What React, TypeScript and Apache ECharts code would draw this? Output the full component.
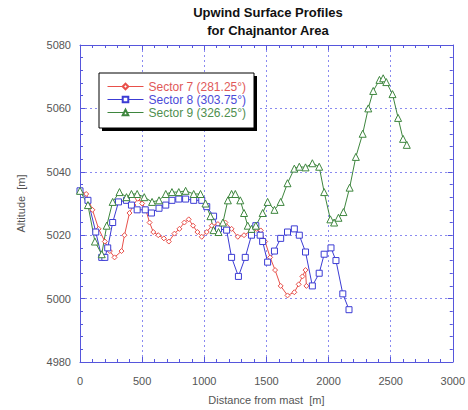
import React, { useEffect, useRef } from "react";
import * as echarts from "echarts";

const distance7 = [0, 50, 100, 150, 200, 240, 278, 334, 358, 398, 430, 465, 500, 530, 560, 590, 630, 675, 715, 760, 800, 840, 875, 910, 945, 980, 1020, 1060, 1110, 1170, 1220, 1270, 1320, 1380, 1420, 1455, 1490, 1530, 1570, 1615, 1670, 1725, 1760, 1790, 1815, 1822];
const altitude7 = [5034, 5033, 5028, 5022, 5018, 5015, 5013, 5015, 5020, 5027, 5029.5, 5031.5, 5030, 5028, 5024, 5021, 5020, 5019, 5018, 5020.5, 5022, 5024, 5025, 5023, 5021, 5019.5, 5021, 5023, 5023.5, 5024, 5022, 5019.5, 5020, 5021.5, 5022, 5021.5, 5018, 5013, 5009, 5004, 5001, 5002, 5004.5, 5007, 5009, 5004];

const distance8 = [0, 64, 127, 175, 200, 223, 263, 310, 374, 414, 460, 525, 575, 636, 690, 740, 795, 850, 915, 980, 1020, 1075, 1115, 1180, 1220, 1275, 1330, 1380, 1415, 1450, 1470, 1510, 1565, 1615, 1670, 1725, 1765, 1815, 1870, 1925, 1965, 2020, 2060, 2115, 2165];
const altitude8 = [5034, 5031, 5021, 5013, 5013, 5016, 5024, 5030.5, 5031, 5029.5, 5028, 5028, 5027, 5028.5, 5029.5, 5031, 5031.4, 5031.4, 5031, 5031, 5029, 5026, 5022, 5021.6, 5013, 5007, 5013, 5020, 5023, 5020, 5018, 5011.5, 5015, 5019, 5021, 5022, 5020, 5014.7, 5004, 5008, 5014, 5016, 5012, 5001.5, 4996.5];

const distance9 = [0, 64, 120, 175, 215, 263, 318, 374, 414, 460, 517, 580, 636, 690, 740, 795, 850, 915, 970, 1010, 1050, 1075, 1115, 1150, 1190, 1220, 1250, 1290, 1320, 1350, 1380, 1415, 1470, 1510, 1565, 1615, 1670, 1725, 1765, 1815, 1870, 1925, 1965, 2015, 2045, 2080, 2120, 2170, 2220, 2275, 2320, 2360, 2410, 2440, 2465, 2515, 2560, 2600, 2630];
const altitude9 = [5034, 5029.5, 5018, 5014, 5023, 5030.5, 5033.6, 5032, 5033, 5033, 5032, 5030.5, 5031, 5033, 5033.6, 5033.6, 5034, 5033, 5033, 5030, 5026, 5021.6, 5021, 5024, 5031, 5033, 5033, 5031, 5027, 5023, 5022, 5023, 5027, 5030.5, 5028, 5030.5, 5036.4, 5041, 5041.6, 5041.4, 5042.7, 5041.6, 5033.6, 5025, 5024, 5025.5, 5027.3, 5035, 5044.7, 5052, 5060, 5065.5, 5069, 5069.5, 5068.3, 5064.5, 5057, 5050.4, 5048.5];

const seriesNames = ["Sector 7 (281.25°)", "Sector 8 (303.75°)", "Sector 9 (326.25°)"];
const xTicks = { min: 0, max: 3000, interval: 500 };
const yTicks = { min: 4980, max: 5080, interval: 20 };

const zip = (xs: number[], ys: number[]) => xs.map((x, i) => [x, ys[i]]);

const AXIS_COLOR = "#5656dc";
const GRID_COLOR = "#8a8af0";
const LABEL_COLOR = "#555555";
const FONT = "Liberation Sans, Arial, sans-serif";

export default function App() {
  const ref = useRef<HTMLDivElement>(null);
  useEffect(() => {
    document.body.style.margin = "0";
    if (!ref.current) return;
    const chart = echarts.init(ref.current, undefined, { renderer: "svg" });
    const baseAxis = {
      type: "value" as const,
      axisLine: { show: true, onZero: false, lineStyle: { color: AXIS_COLOR, width: 1 } },
      axisTick: { show: true, inside: true, length: 5, lineStyle: { color: AXIS_COLOR } },
      minorTick: { show: true, splitNumber: 5, length: 3, lineStyle: { color: AXIS_COLOR } },
    };
    const lineSeries = (name: string, data: number[][], color: string, symbol: string, size: number) => ({
      name,
      type: "line",
      data,
      symbol,
      symbolSize: size,
      showAllSymbol: true,
      lineStyle: { color, width: 1 },
      itemStyle: { color: "#ffffff", borderColor: color, borderWidth: 1 },
      emphasis: { disabled: true },
      z: 3,
    });
    const titleStyle = (text: string, y: number) => ({
      type: "text",
      z: 10,
      style: { text, x: 268, y, textAlign: "center", textVerticalAlign: "middle", font: `bold 13px ${FONT}`, fill: "#111" },
    });
    chart.setOption({
      animation: false,
      grid: { left: 80, right: 11, top: 45, bottom: 48, containLabel: false },
      graphic: [
        titleStyle("Upwind Surface Profiles", 12),
        titleStyle("for Chajnantor Area", 30),
        { type: "rect", shape: { x: 102, y: 76, width: 155, height: 55 }, style: { fill: "#000" }, z: 5 },
        { type: "rect", shape: { x: 99, y: 73, width: 155, height: 55 }, style: { fill: "#fff", stroke: "#000", lineWidth: 1 }, z: 6 },
      ],
      legend: {
        orient: "vertical",
        left: 107,
        top: 80,
        padding: 0,
        itemWidth: 36,
        itemHeight: 7,
        itemGap: 0,
        z: 8,
        lineStyle: { width: 1 },
        textStyle: { fontFamily: FONT, fontSize: 12, lineHeight: 13 },
        data: [
          { name: seriesNames[0], textStyle: { color: "#e05858" } },
          { name: seriesNames[1], textStyle: { color: "#4a4ad8" } },
          { name: seriesNames[2], textStyle: { color: "#4f8f4f" } },
        ],
      },
      xAxis: [
        {
          ...baseAxis,
          position: "bottom",
          ...xTicks,
          axisLabel: { color: LABEL_COLOR, fontSize: 11, fontFamily: FONT, margin: 13, formatter: (v: number) => String(v) },
          splitLine: { show: true, lineStyle: { color: GRID_COLOR, type: [2, 3], width: 1 } },
          name: "Distance from mast  [m]",
          nameLocation: "middle",
          nameGap: 32,
          nameTextStyle: { color: LABEL_COLOR, fontSize: 11, fontFamily: FONT },
        },
        {
          ...baseAxis,
          position: "top",
          ...xTicks,
          axisLabel: { show: false },
          splitLine: { show: false },
        },
      ],
      yAxis: [
        {
          ...baseAxis,
          position: "left",
          ...yTicks,
          axisLabel: { color: LABEL_COLOR, fontSize: 11, fontFamily: FONT, margin: 9, formatter: (v: number) => String(v) },
          splitLine: { show: true, lineStyle: { color: GRID_COLOR, type: [2, 3], width: 1 } },
          name: "Altitude  [m]",
          nameLocation: "middle",
          nameGap: 54,
          nameTextStyle: { color: LABEL_COLOR, fontSize: 11, fontFamily: FONT },
        },
        {
          ...baseAxis,
          position: "right",
          ...yTicks,
          axisLabel: { show: false },
          splitLine: { show: false },
        },
      ],
      series: [
        lineSeries(seriesNames[0], zip(distance7, altitude7), "#e8504a", "diamond", 5),
        lineSeries(seriesNames[1], zip(distance8, altitude8), "#3c3cd4", "rect", 6),
        lineSeries(seriesNames[2], zip(distance9, altitude9), "#3e863e", "triangle", 7),
      ],
    });
    return () => chart.dispose();
  }, []);
  return <div ref={ref} style={{ width: 468, height: 410 }} />;
}
